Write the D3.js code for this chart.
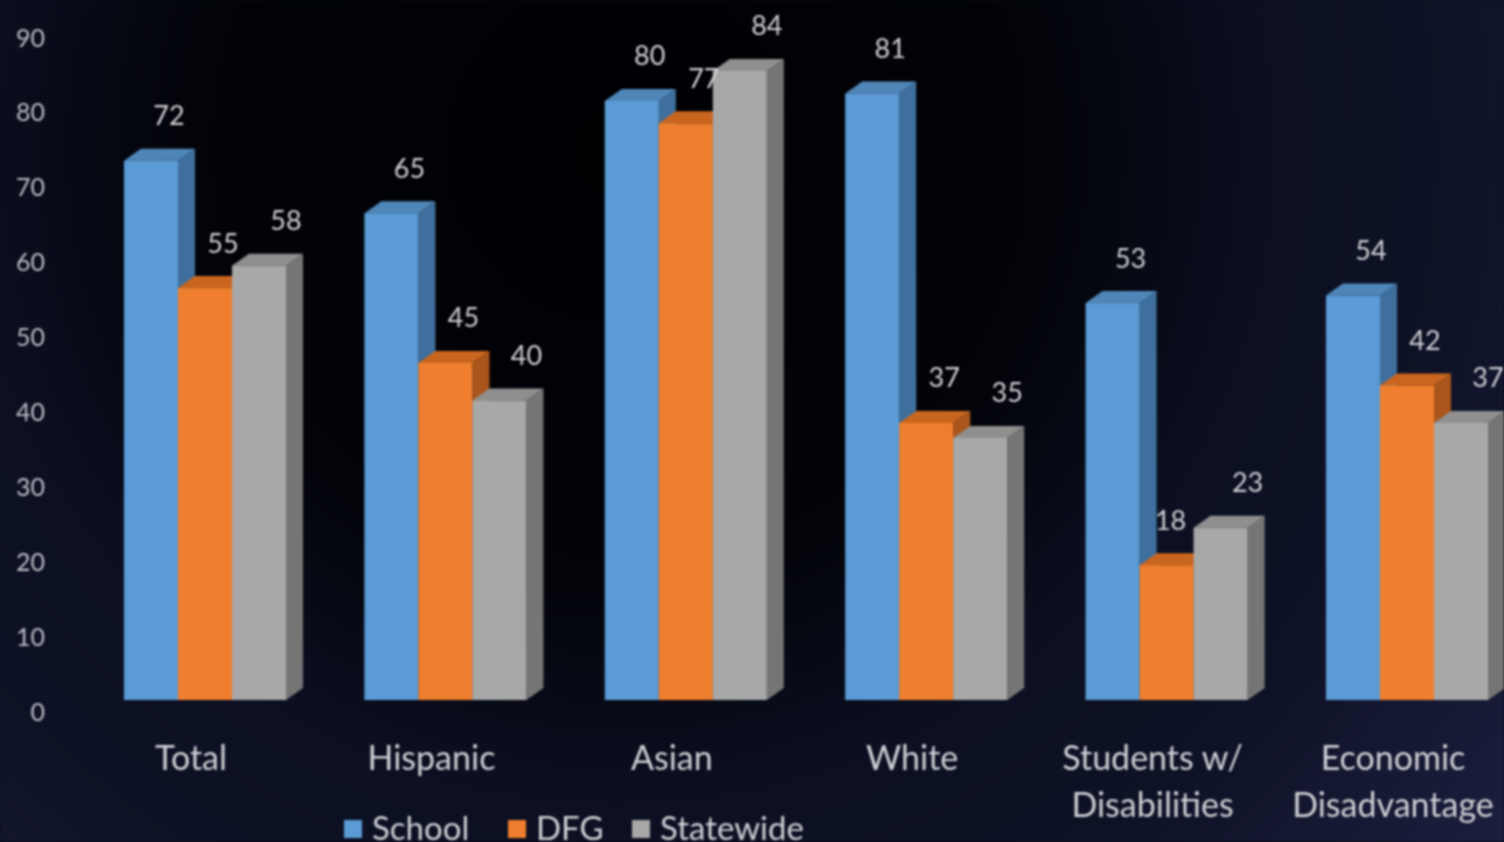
<!DOCTYPE html>
<html>
<head>
<meta charset="utf-8">
<script src="https://cdnjs.cloudflare.com/ajax/libs/d3/7.8.5/d3.min.js"></script>
<style>
  html, body { margin: 0; padding: 0; background: #0a0c1c; overflow: hidden; }
  svg { display: block; font-family: Lato, "Open Sans", sans-serif; }
  #chart { filter: blur(1.1px); }
</style>
</head>
<body>
<svg id="chart" width="1504" height="842"></svg>
<script>
// data
var categories = ["Total", "Hispanic", "Asian", "White", "Students w/\nDisabilities", "Economic\nDisadvantage"];
var seriesNames = ["School", "DFG", "Statewide"];
var school = [72, 65, 80, 81, 53, 54];
var dfg = [55, 45, 77, 37, 18, 42];
var statewide = [58, 40, 84, 35, 23, 37];
var yTicks = [0, 10, 20, 30, 40, 50, 60, 70, 80, 90];

var seriesValues = [school, dfg, statewide];
var frontColors = ["#5b9bd5", "#ef7f2e", "#a8a8a8"];
var topColors = ["#4f86b8", "#c9651f", "#8f8f8f"];
var sideColors = ["#3f6f9c", "#a9551b", "#757575"];

var width = 1504, height = 842;
var baseY = 700, depthX = 17, depthY = 12;

var svg = d3.select("#chart");

// background: black in the middle, navy towards the edges
var defs = svg.append("defs");
var bg = defs.append("radialGradient")
  .attr("id", "bg")
  .attr("gradientUnits", "userSpaceOnUse")
  .attr("cx", 620).attr("cy", 150).attr("r", 1100);
bg.append("stop").attr("offset", "0%").attr("stop-color", "#000003");
bg.append("stop").attr("offset", "40%").attr("stop-color", "#03040a");
bg.append("stop").attr("offset", "60%").attr("stop-color", "#0c1022");
bg.append("stop").attr("offset", "76%").attr("stop-color", "#0e1226");
bg.append("stop").attr("offset", "100%").attr("stop-color", "#1b1e3c");
svg.append("rect").attr("width", width).attr("height", height).attr("fill", "url(#bg)");

// scales
var y = d3.scaleLinear().domain([0, 90]).range([baseY, baseY - 674]);
var x0 = d3.scaleBand().domain(categories).range([124, 1488]).paddingInner(0.326);
var x1 = d3.scaleBand().domain(seriesNames).range([0, x0.bandwidth()]);

// y axis labels sit at the back wall, a little below the bar fronts
var yAxis = d3.axisLeft(y).tickValues(yTicks).tickSize(0).tickPadding(0);
var yG = svg.append("g")
  .attr("transform", "translate(45," + depthY + ")")
  .call(yAxis);
yG.select(".domain").remove();
yG.selectAll("text")
  .attr("fill", "#bcbcc4")
  .style("font-family", "Lato, 'Open Sans', sans-serif")
  .style("font-size", "25px");

// bars, painted left to right so that later fronts cover earlier sides
var groups = svg.selectAll(".group")
  .data(categories)
  .enter().append("g")
  .attr("class", "group")
  .attr("transform", function(d) { return "translate(" + x0(d) + ",0)"; });

seriesNames.forEach(function(name, s) {
  var bw = x1.bandwidth();

  groups.append("path")
    .attr("fill", sideColors[s])
    .attr("d", function(d, i) {
      var l = x1(name) + bw, t = y(seriesValues[s][i]);
      return "M" + l + "," + t + "L" + (l + depthX) + "," + (t - depthY) +
        "L" + (l + depthX) + "," + (baseY - depthY) + "L" + l + "," + baseY + "Z";
    });

  groups.append("path")
    .attr("fill", topColors[s])
    .attr("d", function(d, i) {
      var l = x1(name), t = y(seriesValues[s][i]);
      return "M" + l + "," + t + "L" + (l + depthX) + "," + (t - depthY) +
        "L" + (l + bw + depthX) + "," + (t - depthY) + "L" + (l + bw) + "," + t + "Z";
    });

  groups.append("rect")
    .attr("fill", frontColors[s])
    .attr("x", x1(name))
    .attr("width", bw)
    .attr("y", function(d, i) { return y(seriesValues[s][i]); })
    .attr("height", function(d, i) { return baseY - y(seriesValues[s][i]); });
});

// value labels go on top of every bar
seriesNames.forEach(function(name, s) {
  groups.append("text")
    .attr("x", function(d, i) {
      // the 18 label was nudged left to clear the grey bar
      var nudge = seriesValues[s][i] == 18 ? -14 : 0;
      return x1(name) + x1.bandwidth() / 2 + (s == 2 ? 27 : 18) + nudge;
    })
    .attr("y", function(d, i) { return y(seriesValues[s][i]) - 45; })
    .attr("dy", "0.35em")
    .attr("text-anchor", "middle")
    .attr("fill", "#cfcfd4")
    .style("font-size", "27px")
    .text(function(d, i) { return seriesValues[s][i]; });
});

// category labels, centred on the floor of the group
var xAxis = d3.axisBottom(x0).tickSize(0).tickPadding(0).tickFormat("");
var xG = svg.append("g")
  .attr("transform", "translate(-14,0)")
  .call(xAxis);
xG.select(".domain").remove();
xG.selectAll(".tick text").remove();
xG.selectAll(".tick").append("text")
  .attr("text-anchor", "middle")
  .attr("fill", "#cfcfd4")
  .style("font-family", "Lato, 'Open Sans', sans-serif")
  .style("font-size", "34px")
  .each(function(d) {
    var t = d3.select(this);
    d.split("\n").forEach(function(line, i) {
      t.append("tspan").attr("x", 0).attr("y", 770 + i * 47).text(line);
    });
  });

// legend
var legendX = d3.scaleOrdinal().domain(seriesNames).range([344, 508, 632]);
var legend = svg.selectAll(".legend")
  .data(seriesNames)
  .enter().append("g")
  .attr("class", "legend")
  .attr("transform", function(d) { return "translate(" + legendX(d) + ",820)"; });
legend.append("rect")
  .attr("width", 18).attr("height", 18)
  .attr("fill", function(d, i) { return frontColors[i]; });
legend.append("text")
  .attr("x", 28).attr("y", 20)
  .attr("fill", "#cfcfd4")
  .style("font-size", "33px")
  .text(function(d) { return d; });
</script>
</body>
</html>
